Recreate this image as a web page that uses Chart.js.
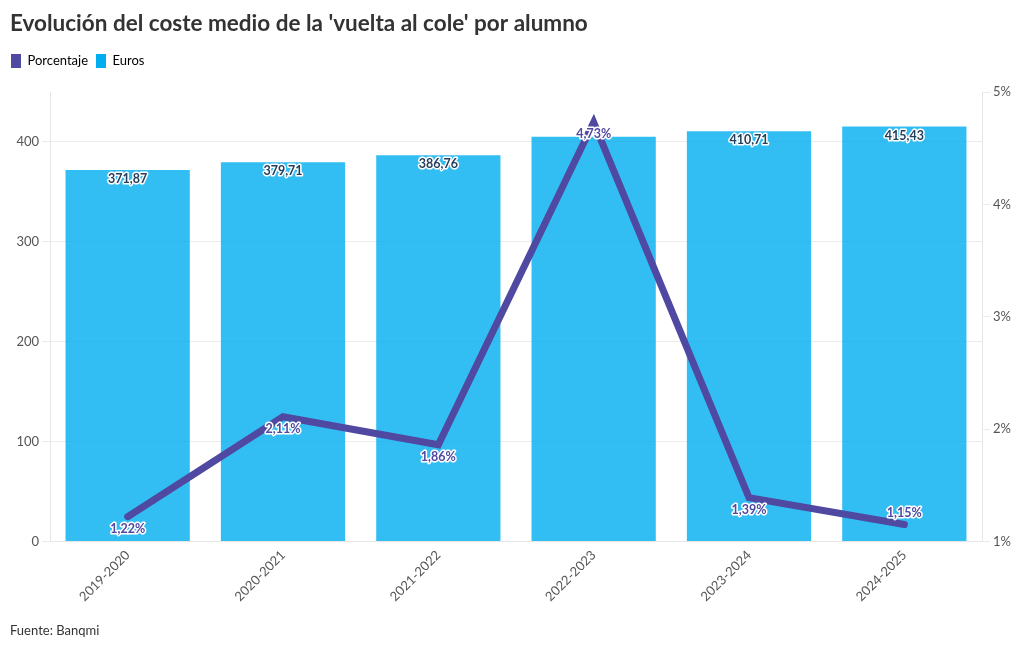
<!DOCTYPE html>
<html>
<head>
<meta charset="utf-8">
<script src="https://cdn.jsdelivr.net/npm/chart.js@4.4.1/dist/chart.umd.min.js"></script>
<style>
  html, body { margin: 0; padding: 0; background: #fff; }
  #wrap { width: 1020px; height: 650px; }
</style>
</head>
<body>
<div id="wrap"><canvas id="myChart" width="1020" height="650"></canvas></div>
<script>
const years = ['2019-2020', '2020-2021', '2021-2022', '2022-2023', '2023-2024', '2024-2025'];
const euros = [371.87, 379.71, 386.76, 405.08, 410.71, 415.43];
const porcentaje = [1.22, 2.11, 1.86, 4.73, 1.39, 1.15];
const euroTicks = [0, 100, 200, 300, 400];
const pctTicks = [1, 2, 3, 4, 5];

const purple = '#5049a2';
const blue = '#00aef0';
const fontFamily = 'Lato, "Noto Sans", sans-serif';

const fmt = v => v.toFixed(2).replace('.', ',');

// extra room under the legend, and pull it flush with the title
const legendGap = {
    id: 'legendGap',
    beforeInit(chart) {
        const origFit = chart.legend.fit;
        const origDraw = chart.legend.draw;
        chart.legend.fit = function () {
            origFit.bind(chart.legend)();
            this.height += 14;
        };
        chart.legend.draw = function () {
            chart.ctx.save();
            chart.ctx.translate(-7, 0);
            origDraw.bind(chart.legend)();
            chart.ctx.restore();
        };
    }
};

// labels drawn by hand, white outline like the original
const valueLabels = {
    id: 'valueLabels',
    afterDatasetsDraw(chart) {
        const ctx = chart.ctx;
        const area = chart.chartArea;
        ctx.save();
        ctx.font = 'bold 12.5px ' + fontFamily;
        ctx.textAlign = 'center';
        ctx.textBaseline = 'middle';
        ctx.lineJoin = 'round';
        ctx.lineWidth = 3;
        ctx.strokeStyle = '#fff';

        let boxes = [];
        let lineMeta = chart.getDatasetMeta(0);
        lineMeta.data.forEach((pt, i) => {
            let y = pt.y + 12;
            if (y + 7 > area.bottom) y = pt.y - 12;
            let txt = fmt(porcentaje[i]) + '%';
            let w = ctx.measureText(txt).width;
            boxes.push({x1: pt.x - w / 2, x2: pt.x + w / 2, y1: y - 7, y2: y + 7});
            ctx.fillStyle = purple;
            ctx.strokeText(txt, pt.x, y);
            ctx.fillText(txt, pt.x, y);
        });

        let barMeta = chart.getDatasetMeta(1);
        barMeta.data.forEach((bar, i) => {
            let y = bar.y + 9;
            let txt = fmt(euros[i]);
            let w = ctx.measureText(txt).width;
            let b = {x1: bar.x - w / 2, x2: bar.x + w / 2, y1: y - 7, y2: y + 7};
            let hit = boxes.some(o => b.x1 < o.x2 && b.x2 > o.x1 && b.y1 < o.y2 && b.y2 > o.y1);
            if (hit) return;
            ctx.fillStyle = '#243f5c';
            ctx.strokeText(txt, bar.x, y);
            ctx.fillText(txt, bar.x, y);
        });
        ctx.restore();
    }
};

const ctx = document.getElementById('myChart').getContext('2d');
const chart = new Chart(ctx, {
    data: {
        labels: years,
        datasets: [
            {
                type: 'line',
                label: 'Porcentaje',
                data: porcentaje,
                yAxisID: 'y1',
                borderColor: purple,
                backgroundColor: purple,
                borderWidth: 7,
                borderJoinStyle: 'miter',
                borderCapStyle: 'round',
                pointRadius: 0,
                tension: 0,
                order: 0,
            },
            {
                type: 'bar',
                label: 'Euros',
                data: euros,
                yAxisID: 'y',
                backgroundColor: 'rgba(0,174,240,0.8)',
                categoryPercentage: 0.8,
                barPercentage: 1,
                order: 1,
            },
        ],
    },
    options: {
        responsive: false,
        animation: false,
        layout: {padding: {left: 10, right: 0, top: 0, bottom: 0}},
        plugins: {
            title: {
                display: true,
                text: "Evolución del coste medio de la 'vuelta al cole' por alumno",
                align: 'start',
                color: '#333',
                font: {family: fontFamily, size: 22.5, weight: 'bold'},
                padding: {top: 10, bottom: 9},
            },
            legend: {
                align: 'start',
                labels: {
                    color: '#333',
                    font: {family: fontFamily, size: 13},
                    boxWidth: 10,
                    boxHeight: 14,
                    padding: 8,
                    useBorderRadius: true,
                    borderRadius: 3,
                    generateLabels(chart) {
                        return [
                            {text: 'Porcentaje', fillStyle: purple, strokeStyle: purple, lineWidth: 0, datasetIndex: 0},
                            {text: 'Euros', fillStyle: blue, strokeStyle: blue, lineWidth: 0, datasetIndex: 1},
                        ];
                    },
                },
            },
            subtitle: {
                display: true,
                position: 'bottom',
                align: 'start',
                text: 'Fuente: Banqmi',
                color: '#333',
                font: {family: fontFamily, size: 13},
                padding: {top: 0, bottom: 11},
            },
            tooltip: {enabled: false},
        },
        scales: {
            x: {
                grid: {display: false, drawTicks: false},
                border: {display: true, color: '#e6e6e6'},
                ticks: {
                    color: '#555',
                    font: {family: fontFamily, size: 13},
                    maxRotation: 45,
                    minRotation: 45,
                    padding: 6,
                },
                afterFit(scale) { scale.height = 82; },
            },
            y: {
                position: 'left',
                min: 0,
                max: 450,
                grid: {color: '#ececec', tickLength: 8},
                border: {display: true, color: '#e6e6e6'},
                ticks: {color: '#555', font: {family: fontFamily, size: 13}, padding: 3},
                afterBuildTicks(scale) { scale.ticks = euroTicks.map(v => ({value: v})); },
                afterFit(scale) { scale.width = 40; },
            },
            y1: {
                position: 'right',
                min: 1,
                max: 5,
                grid: {drawOnChartArea: false, color: '#ececec', tickLength: 8},
                border: {display: true, color: '#e6e6e6'},
                ticks: {
                    color: '#555',
                    font: {family: fontFamily, size: 13},
                    padding: 3,
                    callback: v => v + '%',
                },
                afterBuildTicks(scale) { scale.ticks = pctTicks.map(v => ({value: v})); },
                afterFit(scale) { scale.width = 38; },
            },
        },
    },
    plugins: [legendGap, valueLabels],
});
</script>
</body>
</html>
